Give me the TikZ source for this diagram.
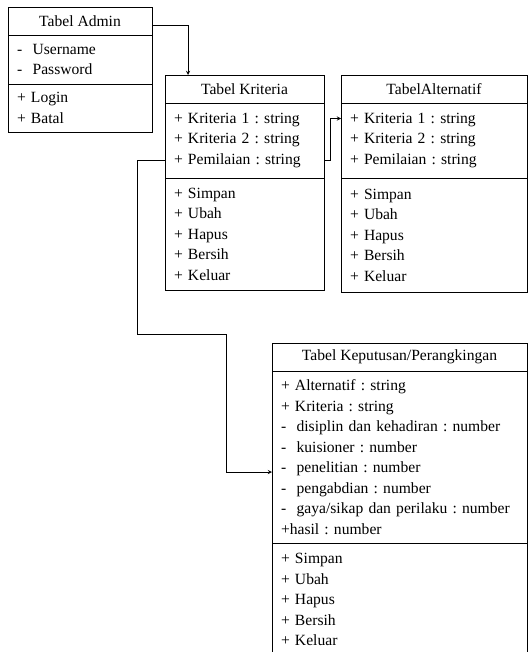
\documentclass[tikz,border=0pt]{standalone}
\usepackage{fontspec}
\setmainfont{Liberation Serif}
\usetikzlibrary{arrows,positioning}
\frenchspacing

\begin{document}
\begin{tikzpicture}[x=1pt, y=-1pt, font=\fontsize{15.6}{20.5}\selectfont]
\tikzstyle{classtitle} = [rectangle, draw, line width=0.9pt, minimum height=28pt, inner sep=0pt, outer sep=0pt, anchor=north west, text centered]
\tikzstyle{classpart} = [rectangle, draw, line width=0.9pt, inner xsep=9pt, inner ysep=0pt, outer sep=0pt, align=left]
\tikzstyle{arrow} = [line width=0.9pt,->,>=stealth]

\useasboundingbox (0,0) rectangle (528,652);

% Tabel Admin
\node (AdminTitle) [classtitle, minimum width=144pt] at (8,7) {Tabel Admin};
\node (AdminAttr) [classpart, below=0pt of AdminTitle, text width=126pt, minimum height=49pt] {- \ Username\\- \ Password};
\node (AdminOps) [classpart, below=0pt of AdminAttr, text width=126pt, minimum height=48pt] {+ Login\\+ Batal};

% Tabel Kriteria
\node (KriteriaTitle) [classtitle, minimum width=159pt] at (165,75) {Tabel Kriteria};
\node (KriteriaAttr) [classpart, below=0pt of KriteriaTitle, text width=141pt, minimum height=75pt] {+ Kriteria 1 : string\\+ Kriteria 2 : string\\+ Pemilaian : string\\[3pt]};
\node (KriteriaOps) [classpart, below=0pt of KriteriaAttr, text width=141pt, minimum height=112pt] {+ Simpan\\+ Ubah\\+ Hapus\\+ Bersih\\+ Keluar};

% Tabel Alternatif
\node (AlternatifTitle) [classtitle, minimum width=186pt] at (341,75) {TabelAlternatif};
\node (AlternatifAttr) [classpart, below=0pt of AlternatifTitle, text width=168pt, minimum height=75pt] {+ Kriteria 1 : string\\+ Kriteria 2 : string\\+ Pemilaian : string\\[3pt]};
\node (AlternatifOps) [classpart, below=0pt of AlternatifAttr, text width=168pt, minimum height=114pt] {+ Simpan\\+ Ubah\\+ Hapus\\+ Bersih\\+ Keluar};

% Tabel Keputusan/Perangkingan
\node (KeputusanTitle) [classtitle, minimum width=255pt] at (272,343) {Tabel Keputusan/Perangkingan};
\node (KeputusanAttr) [classpart, below=0pt of KeputusanTitle, text width=237pt, minimum height=172pt] {+ Alternatif : string\\+ Kriteria : string\\- \ disiplin dan kehadiran : number\\- \ kuisioner : number\\- \ penelitian : number\\- \ pengabdian : number\\- \ gaya/sikap dan perilaku : number\\+hasil : number};
\node (KeputusanOps) [classpart, below=0pt of KeputusanAttr, text width=237pt, minimum height=113pt] {+ Simpan\\+ Ubah\\+ Hapus\\+ Bersih\\+ Keluar};

\draw [arrow] ([yshift=-4pt]AdminTitle.east) -| ([xshift=23pt]KriteriaTitle.north west);
\draw [arrow] ([yshift=-20pt]KriteriaAttr.east) -- ++(6pt,0) |- ([yshift=22pt]AlternatifAttr.west);
\draw [arrow] ([yshift=-20pt]KriteriaAttr.west) -| (137,334) -| (226,472) -- ([yshift=-15pt]KeputusanAttr.west);
\end{tikzpicture}
\end{document}
